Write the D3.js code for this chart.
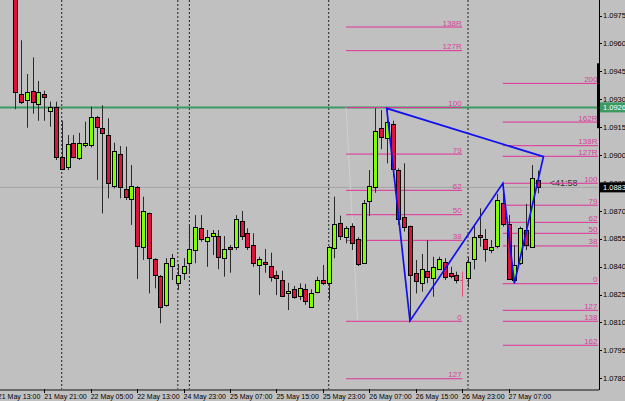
<!DOCTYPE html>
<html>
<head>
<meta charset="utf-8">
<script src="https://cdn.jsdelivr.net/npm/d3@7"></script>
<style>
body{margin:0;background:#c0c0c0;}
svg{display:block;}
.narrow{font-family:"Liberation Sans Narrow","Arial Narrow","Liberation Sans",sans-serif;}
</style>
</head>
<body>
<svg id="chart"></svg>
<script>
// hourly EURUSD-style candles, bar 0 = 21 May 16:00
var opens=[1.09940,1.09330,1.09294,1.09344,1.09276,1.09328,1.09235,1.09256,1.08988,1.08934,
 1.09063,1.08982,1.09055,1.09055,1.09203,1.09147,1.09107,1.08833,1.09005,1.08816,
 1.08764,1.08826,1.08507,1.08686,1.08439,1.08350,1.08194,1.08405,1.08310,1.08367,
 1.08418,1.08489,1.08606,1.08538,1.08564,1.08564,1.08445,1.08507,1.08507,1.08647,
 1.08579,1.08514,1.08407,1.08425,1.08405,1.08355,1.08326,1.08256,1.08279,1.08242,
 1.08278,1.08184,1.08263,1.08328,1.08310,1.08498,1.08636,1.08558,1.08618,1.08549,
 1.08418,1.08754,1.08826,1.09145,1.09090,1.09167,1.08919,1.08668,1.08618,1.08367,
 1.08314,1.08378,1.08337,1.08385,1.08425,1.08367,1.08353,1.08326,1.08337,1.08439,
 1.08568,1.08547,1.08490,1.08512,1.08744,1.08628,1.08328,1.08418,1.08597,1.08507,
 1.08866]
var highs=[1.09995,1.09617,1.09435,1.09525,1.09398,1.09346,1.09287,1.09287,1.09184,1.09107,
 1.09107,1.09119,1.09179,1.09260,1.09210,1.09267,1.09197,1.09066,1.09048,1.09045,
 1.08946,1.08833,1.08776,1.08690,1.08445,1.08355,1.08445,1.08468,1.08414,1.08445,
 1.08624,1.08677,1.08677,1.08597,1.08597,1.08597,1.08564,1.08516,1.08677,1.08699,
 1.08606,1.08579,1.08453,1.08495,1.08475,1.08378,1.08378,1.08313,1.08296,1.08310,
 1.08307,1.08278,1.08346,1.08409,1.08511,1.08776,1.08674,1.08618,1.08633,1.08558,
 1.08758,1.08919,1.09251,1.09242,1.09251,1.09184,1.08928,1.08955,1.08620,1.08436,
 1.08468,1.08543,1.08453,1.08453,1.08445,1.08399,1.08373,1.08373,1.08453,1.08627,
 1.08713,1.08602,1.08543,1.08790,1.08848,1.08677,1.08516,1.08615,1.08737,1.08946,
 1.08916]
var lows=[1.09246,1.09274,1.09147,1.09222,1.09184,1.09184,1.09152,1.08973,1.08919,1.08919,
 1.08982,1.08973,1.09041,1.09041,1.08866,1.08686,1.08767,1.08821,1.08767,1.08758,
 1.08624,1.08333,1.08436,1.08256,1.08283,1.08095,1.08185,1.08328,1.08274,1.08328,
 1.08371,1.08418,1.08534,1.08399,1.08462,1.08386,1.08346,1.08367,1.08489,1.08543,
 1.08489,1.08399,1.08247,1.08367,1.08319,1.08247,1.08238,1.08166,1.08227,1.08220,
 1.08194,1.08180,1.08256,1.08301,1.08220,1.08445,1.08543,1.08525,1.08489,1.08403,
 1.08418,1.08672,1.08797,1.09031,1.08955,1.08883,1.08624,1.08588,1.08108,1.08256,
 1.08265,1.08310,1.08238,1.08382,1.08328,1.08337,1.08310,1.08238,1.08289,1.08385,
 1.08507,1.08426,1.08472,1.08498,1.08615,1.08328,1.08310,1.08409,1.08489,1.08504,
 1.08794]
var closes=[1.09337,1.09287,1.09337,1.09287,1.09337,1.09313,1.09256,1.08991,1.08923,1.09058,
 1.08991,1.09063,1.09066,1.09203,1.09152,1.09117,1.08848,1.09021,1.08830,1.08776,
 1.08835,1.08512,1.08697,1.08445,1.08353,1.08184,1.08418,1.08445,1.08353,1.08405,
 1.08495,1.08615,1.08547,1.08558,1.08579,1.08453,1.08495,1.08495,1.08656,1.08564,
 1.08504,1.08418,1.08439,1.08416,1.08346,1.08337,1.08244,1.08269,1.08238,1.08283,
 1.08217,1.08256,1.08326,1.08314,1.08507,1.08628,1.08564,1.08606,1.08525,1.08414,
 1.08744,1.08833,1.09131,1.09095,1.09179,1.08923,1.08654,1.08615,1.08355,1.08324,
 1.08385,1.08346,1.08399,1.08439,1.08346,1.08351,1.08328,1.08326,1.08423,1.08558,
 1.08558,1.08495,1.08507,1.08758,1.08628,1.08333,1.08409,1.08606,1.08516,1.08878,
 1.08830]

var timeBars=[-3,5,13,21,29,37,45,53,61,69,77,85]
var timeLabels=["21 May 13:00","21 May 21:00","22 May 05:00","22 May 13:00","24 May 23:00",
 "25 May 07:00","25 May 15:00","25 May 23:00","26 May 07:00","26 May 15:00","26 May 23:00","27 May 07:00"]
var priceTicks=[1.0780,1.0795,1.0810,1.0825,1.0840,1.0855,1.0870,1.0885,1.0900,1.0915,1.0930,1.0945,1.0960,1.0975]
var separatorBars=[8,28,30,54,78]

var patternBars=[64,68,84,86,91]
var patternPrices=[1.09251,1.08108,1.08848,1.08310,1.08991]

var fibLeftNames=["138R","127R","100","79","62","50","38","0","127"]
var fibLeftPrices=[1.09688,1.09561,1.09255,1.09005,1.08810,1.08679,1.08541,1.08106,1.07797]
var fibLeftBars=[57,77]
var fibLeftTrendBars=[57,59]
var fibLeftTrendPrices=[1.09256,1.08106]

var fibRightNames=["200","162R","138R","127R","100","79","62","50","38","0","127","138","162"]
var fibRightPrices=[1.09385,1.09177,1.09050,1.08993,1.08848,1.08730,1.08638,1.08579,1.08511,1.08308,1.08165,1.08106,1.07977]
var fibRightBars=[84,100.4]

var levelPrice=1.09256
var bidPrice=1.08826
var timerBar=92.1
var timerText="<41:58"
var rangeMarker=[1.09493,1.09144]

var initChart=function()
    {
        var screen={width:625,height:401}
        var plot={right:599,bottom:389}

        var svg=d3.select("#chart")
            .attr("width",screen.width)
            .attr("height",screen.height)

        svg.append("rect")
            .attr("width",screen.width)
            .attr("height",screen.height)
            .attr("fill","#c0c0c0")

        var xScale=d3.scaleLinear()
            .domain([0,90])
            .range([15.27,15.27+90*5.804])
        var yScale=d3.scaleLinear()
            .domain([1.0780,1.0975])
            .range([378.2,15.5])

        svg.append("clipPath")
            .attr("id","plotclip")
            .append("rect")
            .attr("width",plot.right)
            .attr("height",plot.bottom)

        var target=svg.append("g")
            .attr("clip-path","url(#plotclip)")

        drawSeparators(target,plot,xScale)
        drawLevels(target,plot,xScale,yScale)
        drawFibs(target,xScale,yScale)
        drawCandles(target,xScale,yScale)
        drawPattern(target,xScale,yScale)
        drawAxes(svg,plot,xScale,yScale)
    }

var drawSeparators=function(target,plot,xScale)
    {
        target.selectAll(".sep")
            .data(separatorBars)
            .enter()
            .append("line")
            .attr("x1",function(b){return xScale(b)})
            .attr("x2",function(b){return xScale(b)})
            .attr("y1",0)
            .attr("y2",plot.bottom)
            .attr("stroke","#303030")
            .attr("stroke-width",1.1)
            .attr("stroke-dasharray","2,2")
    }

var drawLevels=function(target,plot,xScale,yScale)
    {
        target.append("line")
            .attr("x1",0).attr("x2",plot.right)
            .attr("y1",yScale(bidPrice)).attr("y2",yScale(bidPrice))
            .attr("stroke","#a4a4a4")
        target.append("line")
            .attr("x1",0).attr("x2",plot.right)
            .attr("y1",yScale(levelPrice)).attr("y2",yScale(levelPrice))
            .attr("stroke","#3a9a62")
            .attr("stroke-width",2)
        target.append("text")
            .text(timerText)
            .attr("x",xScale(timerBar))
            .attr("y",yScale(bidPrice)-1)
            .attr("font-family","Liberation Sans, Arial, sans-serif")
            .attr("font-size",9)
            .attr("fill","#303030")
    }

var drawFibs=function(target,xScale,yScale)
    {
        target.append("line")
            .attr("x1",xScale(fibLeftTrendBars[0]))
            .attr("x2",xScale(fibLeftTrendBars[1]))
            .attr("y1",yScale(fibLeftTrendPrices[0]))
            .attr("y2",yScale(fibLeftTrendPrices[1]))
            .attr("stroke","#d0d0d0")

        var sets=[
            {names:fibLeftNames,prices:fibLeftPrices,bars:fibLeftBars},
            {names:fibRightNames,prices:fibRightPrices,bars:fibRightBars}
        ]
        sets.forEach(function(set)
            {
                var g=target.append("g")
                g.selectAll("line")
                    .data(set.prices)
                    .enter()
                    .append("line")
                    .attr("x1",xScale(set.bars[0]))
                    .attr("x2",xScale(set.bars[1]))
                    .attr("y1",function(p){return yScale(p)})
                    .attr("y2",function(p){return yScale(p)})
                    .attr("stroke","#e0309a")
                g.selectAll("text")
                    .data(set.prices)
                    .enter()
                    .append("text")
                    .classed("narrow",true)
                    .text(function(p,i){return set.names[i]})
                    .attr("x",xScale(set.bars[1])-0.5)
                    .attr("y",function(p){return yScale(p)-1.5})
                    .attr("text-anchor","end")
                    .attr("font-size",8)
                    .attr("fill","#d4449a")
            })
    }

var drawCandles=function(target,xScale,yScale)
    {
        var bars=opens.map(function(o,i){return i})
        var g=target.append("g")
        var px=function(i){return Math.round(xScale(i))}
        var py=function(p){return Math.round(yScale(p))+0.5}

        g.selectAll(".wick")
            .data(bars)
            .enter()
            .append("line")
            .attr("x1",function(i){return px(i)+0.5})
            .attr("x2",function(i){return px(i)+0.5})
            .attr("y1",function(i){return yScale(highs[i])})
            .attr("y2",function(i){return yScale(lows[i])})
            .attr("stroke",function(i){return opens[i]==closes[i]?"#e85078":"#2a2a2a"})
            .attr("stroke-width",1)

        g.selectAll(".body")
            .data(bars.filter(function(i){return opens[i]!=closes[i]}))
            .enter()
            .append("rect")
            .attr("x",function(i){return px(i)-1.5})
            .attr("width",4)
            .attr("y",function(i){return py(Math.max(opens[i],closes[i]))})
            .attr("height",function(i){return Math.max(1,py(Math.min(opens[i],closes[i]))-py(Math.max(opens[i],closes[i])))})
            .attr("fill",function(i){return closes[i]>opens[i]?"#80ff00":"#dc143c"})
            .attr("stroke","#000")
            .attr("stroke-width",1)

        g.selectAll(".doji")
            .data(bars.filter(function(i){return opens[i]==closes[i]}))
            .enter()
            .append("line")
            .attr("x1",function(i){return px(i)-2})
            .attr("x2",function(i){return px(i)+1})
            .attr("y1",function(i){return py(opens[i])})
            .attr("y2",function(i){return py(opens[i])})
            .attr("stroke","#e85078")
    }

var drawPattern=function(target,xScale,yScale)
    {
        var line=d3.line()
            .x(function(b){return xScale(b)})
            .y(function(b,i){return yScale(patternPrices[i])})
            .curve(d3.curveLinearClosed)
        target.append("path")
            .datum(patternBars)
            .attr("d",line)
            .attr("fill","none")
            .attr("stroke","#1010f0")
            .attr("stroke-width",1.7)
    }

var drawAxes=function(svg,plot,xScale,yScale)
    {
        svg.append("line")
            .attr("x1",plot.right+0.5).attr("x2",plot.right+0.5)
            .attr("y1",0).attr("y2",plot.bottom+1)
            .attr("stroke","#000")
        svg.append("line")
            .attr("x1",0).attr("x2",plot.right)
            .attr("y1",plot.bottom+1).attr("y2",plot.bottom+1)
            .attr("stroke","#686868")
            .attr("stroke-width",2)
        svg.append("rect")
            .attr("x",plot.right-2)
            .attr("width",2)
            .attr("y",yScale(rangeMarker[0]))
            .attr("height",yScale(rangeMarker[1])-yScale(rangeMarker[0]))
            .attr("fill","#000")

        var yAxis=svg.append("g")
        yAxis.selectAll("line")
            .data(priceTicks)
            .enter()
            .append("line")
            .attr("x1",plot.right).attr("x2",plot.right+3)
            .attr("y1",function(p){return Math.round(yScale(p))+0.5})
            .attr("y2",function(p){return Math.round(yScale(p))+0.5})
            .attr("stroke","#000")
        yAxis.selectAll("text")
            .data(priceTicks)
            .enter()
            .append("text")
            .classed("narrow",true)
            .text(function(p){return p.toFixed(4)})
            .attr("x",plot.right+4)
            .attr("y",function(p){return yScale(p)+2.7})
            .attr("font-size",7.5)
            .attr("fill","#000")

        var xAxis=svg.append("g")
        xAxis.selectAll("line")
            .data(timeBars)
            .enter()
            .append("line")
            .attr("x1",function(b){return Math.round(xScale(b))+0.5})
            .attr("x2",function(b){return Math.round(xScale(b))+0.5})
            .attr("y1",plot.bottom).attr("y2",plot.bottom+4)
            .attr("stroke","#000")
        xAxis.selectAll("text")
            .data(timeBars)
            .enter()
            .append("text")
            .classed("narrow",true)
            .text(function(b,i){return timeLabels[i]})
            .attr("x",function(b){return xScale(b)})
            .attr("y",plot.bottom+9.5)
            .attr("font-size",7)
            .attr("fill","#000")

        var boxes=[
            {price:levelPrice,fill:"#3a9a62"},
            {price:bidPrice,fill:"#000"}
        ]
        boxes.forEach(function(b)
            {
                svg.append("rect")
                    .attr("x",plot.right+1)
                    .attr("y",yScale(b.price)-5)
                    .attr("width",26)
                    .attr("height",10)
                    .attr("fill",b.fill)
                svg.append("text")
                    .classed("narrow",true)
                    .text(b.price.toFixed(4))
                    .attr("x",plot.right+4)
                    .attr("y",yScale(b.price)+2.7)
                    .attr("font-size",7.5)
                    .attr("fill","#fff")
            })
    }

initChart()
</script>
</body>
</html>
